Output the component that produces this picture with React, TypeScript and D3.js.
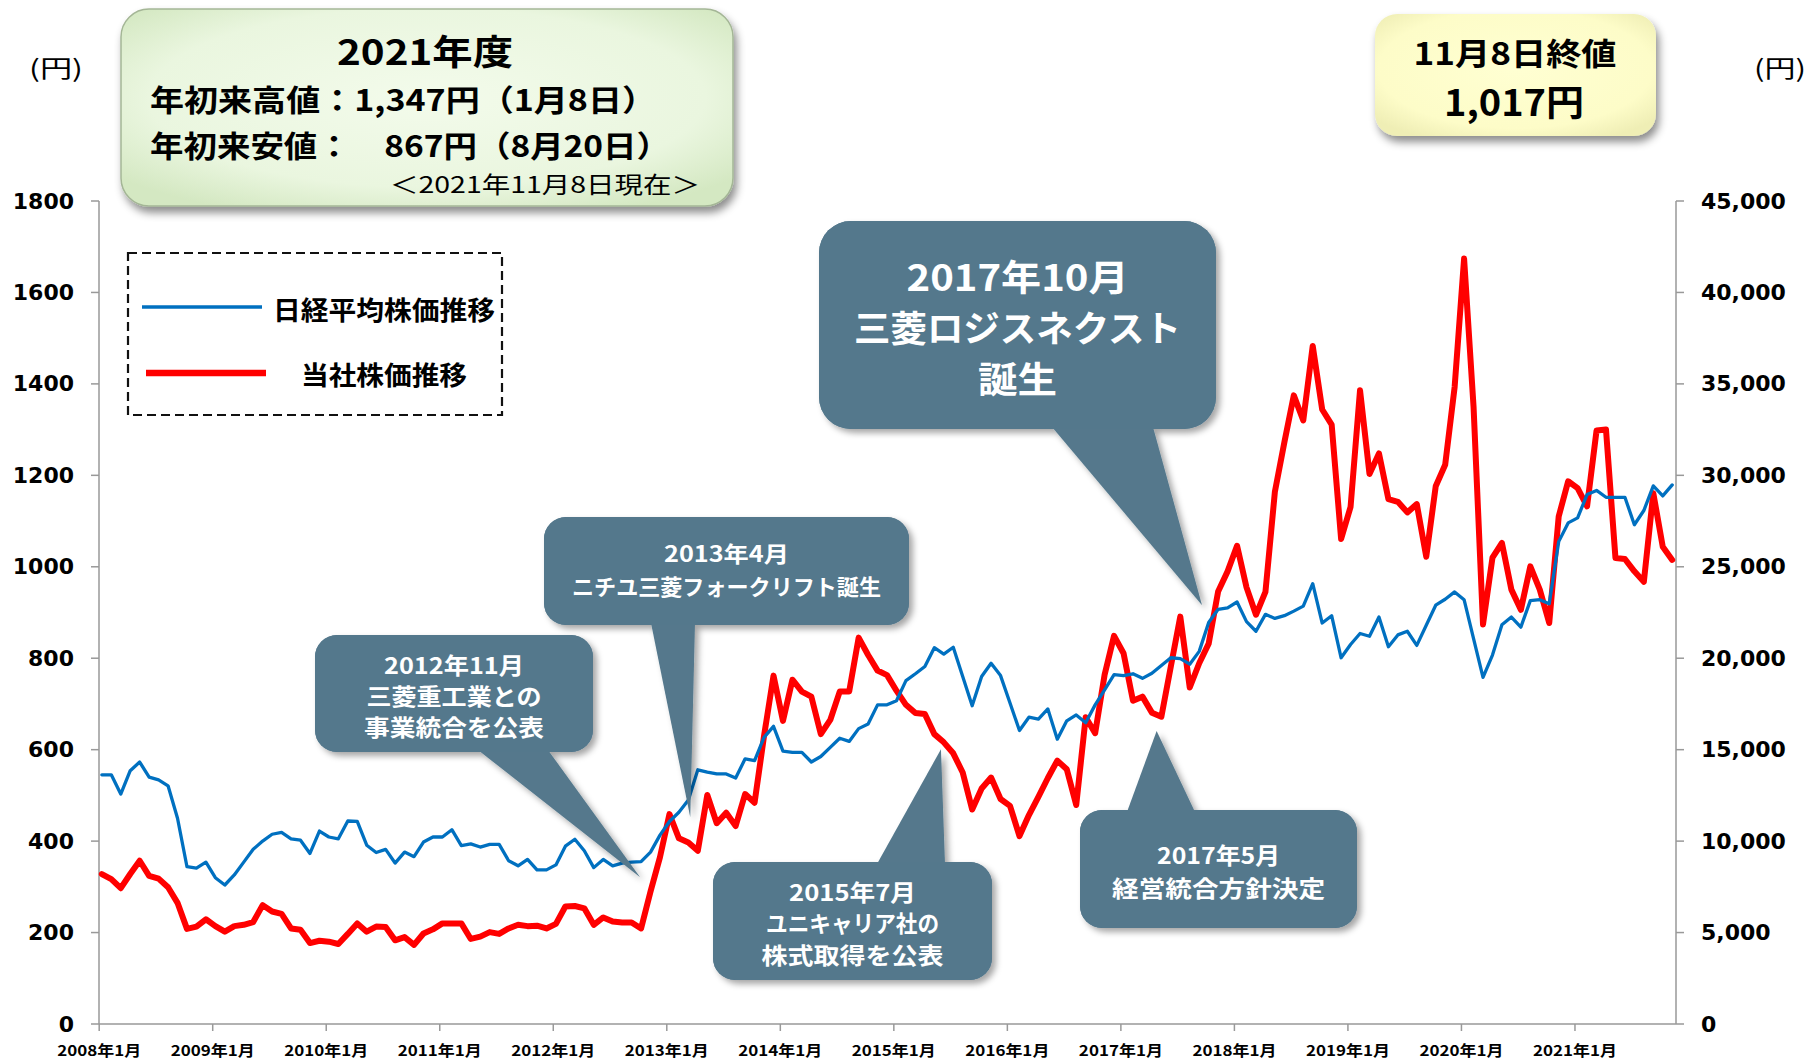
import React from 'react';
import * as d3 from 'd3';

// 当社株価 (円, left axis) monthly Jan 2008 – Nov 2021
const companyPrice = [
  328, 317, 297, 328, 357, 324, 318, 299, 265, 208, 213, 229,
  214, 202, 214, 217, 223, 260, 246, 241, 209, 206, 177, 182,
  180, 175, 197, 220, 202, 213, 212, 183, 190, 173, 198, 207,
  220, 220, 220, 186, 191, 201, 197, 209, 217, 214, 215, 209,
  219, 257, 258, 253, 217, 233, 224, 222, 222, 209, 290, 365,
  459, 406, 397, 379, 501, 439, 462, 433, 503, 484, 630, 762,
  663, 753, 727, 716, 634, 665, 727, 727, 845, 807, 773, 763,
  729, 698, 680, 678, 634, 616, 592, 550, 469, 515, 539, 492,
  477, 411, 457, 497, 538, 576, 557, 479, 671, 636, 764, 849,
  811, 707, 716, 681, 672, 782, 891, 736, 789, 832, 946, 990,
  1046, 955, 895, 945, 1164, 1272, 1375, 1320, 1483, 1344, 1311, 1061,
  1131, 1386, 1203, 1248, 1148, 1142, 1119, 1137, 1022, 1176, 1223, 1393,
  1674, 1350, 874, 1020, 1052, 950, 906, 1001, 950, 877, 1110, 1187,
  1172, 1132, 1298, 1300, 1019, 1017, 990, 967, 1161, 1044, 1015,
];

// 日経平均株価 (円, right axis)
const nikkeiAverage = [
  13625, 13625, 12575, 13850, 14325, 13500, 13350, 13025, 11250, 8600, 8525, 8850,
  8000, 7600, 8150, 8850, 9550, 10000, 10375, 10475, 10125, 10050, 9325, 10550,
  10225, 10125, 11100, 11075, 9775, 9375, 9550, 8800, 9400, 9150, 9950, 10225,
  10225, 10625, 9750, 9850, 9675, 9825, 9825, 8925, 8650, 9000, 8425, 8425,
  8700, 9725, 10100, 9475, 8550, 9000, 8650, 8800, 8850, 8875, 9400, 10325,
  11075, 11575, 12250, 13900, 13775, 13675, 13675, 13450, 14500, 14400, 15675, 16275,
  14925, 14850, 14850, 14325, 14625, 15125, 15625, 15450, 16150, 16400, 17450, 17450,
  17675, 18775, 19150, 19550, 20575, 20225, 20600, 19000, 17400, 19000, 19725, 19050,
  17550, 16050, 16775, 16675, 17225, 15575, 16575, 16900, 16475, 17450, 18275, 19100,
  19050, 19150, 18900, 19175, 19600, 20025, 19975, 19675, 20375, 21950, 22675, 22750,
  23075, 22000, 21475, 22400, 22175, 22325, 22575, 22850, 24075, 21925, 22325, 20025,
  20750, 21350, 21200, 22250, 20625, 21275, 21475, 20700, 21800, 22900, 23225, 23625,
  23200, 21075, 18950, 20175, 21825, 22250, 21700, 23150, 23200, 22975, 26375, 27400,
  27675, 28950, 29175, 28800, 28800, 28800, 27300, 28075, 29425, 28875, 29475,
];

const yearLabels = [
  '2008年1月', '2009年1月', '2010年1月', '2011年1月', '2012年1月', '2013年1月', '2014年1月',
  '2015年1月', '2016年1月', '2017年1月', '2018年1月', '2019年1月', '2020年1月', '2021年1月',
];
const leftTicks = [0, 200, 400, 600, 800, 1000, 1200, 1400, 1600, 1800];
const rightTicks = [0, 5000, 10000, 15000, 20000, 25000, 30000, 35000, 40000, 45000];

const JP = "'Noto Sans CJK JP', 'Noto Sans', sans-serif";
const NUM = "'DejaVu Sans', Verdana, sans-serif";
const CALLOUT = '#54788C';

type Line = { t: string; y: number; s: number; w: number };
type Callout = {
  box: [number, number, number, number];
  r: number;
  base: [number, number];
  side: 'top' | 'bottom';
  tip: [number, number]; // [month index, left-axis value]
  lines: Line[];
};

const callouts: Callout[] = [
  {
    box: [819, 221, 397, 208], r: 32, base: [1052, 1153], side: 'bottom', tip: [116.3, 916],
    lines: [
      { t: '2017年10月', y: 275, s: 36, w: 222 },
      { t: '三菱ロジスネクスト', y: 326, s: 36, w: 327 },
      { t: '誕生', y: 377, s: 36, w: 79 },
    ],
  },
  {
    box: [544, 517, 365, 108], r: 22, base: [651, 695], side: 'bottom', tip: [62.2, 452],
    lines: [
      { t: '2013年4月', y: 552, s: 22, w: 125 },
      { t: 'ニチユ三菱フォークリフト誕生', y: 585, s: 22, w: 309 },
    ],
  },
  {
    box: [315, 635, 278, 117], r: 22, base: [478, 548], side: 'bottom', tip: [56.9, 321],
    lines: [
      { t: '2012年11月', y: 664, s: 23, w: 140 },
      { t: '三菱重工業との', y: 695, s: 23, w: 175 },
      { t: '事業統合を公表', y: 726, s: 23, w: 180 },
    ],
  },
  {
    box: [713, 862, 279, 118], r: 22, base: [877, 945], side: 'top', tip: [88.7, 601],
    lines: [
      { t: '2015年7月', y: 891, s: 23, w: 127 },
      { t: 'ユニキャリア社の', y: 922, s: 23, w: 173 },
      { t: '株式取得を公表', y: 954, s: 23, w: 182 },
    ],
  },
  {
    box: [1080, 810, 277, 118], r: 22, base: [1127, 1195], side: 'top', tip: [111.5, 641],
    lines: [
      { t: '2017年5月', y: 854, s: 23, w: 123 },
      { t: '経営統合方針決定', y: 887, s: 23, w: 213 },
    ],
  },
];

export default function App() {
  const x = d3.scaleLinear().domain([-0.3, 166.4]).range([99, 1676]);
  const yL = d3.scaleLinear().domain([0, 1800]).range([1024, 201]);
  const yR = d3.scaleLinear().domain([0, 45000]).range([1024, 201]);

  const lineCompany = d3.line<number>().x((_, i) => x(i)).y((d) => yL(d));
  const lineNikkei = d3.line<number>().x((_, i) => x(i)).y((d) => yR(d));

  const x0 = x.range()[0];
  const x1 = x.range()[1];
  const yBottom = yL.range()[0];
  const yTop = yL.range()[1];

  return (
    <svg
      width={1808}
      height={1058}
      style={{ position: 'absolute', left: 0, top: 0, background: '#fff' }}
      fontFamily={JP}
    >
      <defs>
        <filter id="shCallout" x="-10%" y="-10%" width="130%" height="130%">
          <feDropShadow dx="4" dy="4" stdDeviation="3" floodColor="#000" floodOpacity="0.35" />
        </filter>
        <filter id="shBox" x="-10%" y="-10%" width="125%" height="140%">
          <feDropShadow dx="3" dy="6" stdDeviation="4" floodColor="#000" floodOpacity="0.45" />
        </filter>
        <radialGradient id="greenFill" cx="50%" cy="45%" r="65%">
          <stop offset="0%" stopColor="#f3fbeb" />
          <stop offset="70%" stopColor="#eaf6df" />
          <stop offset="100%" stopColor="#d4e8c2" />
        </radialGradient>
        <radialGradient id="yellowFill" cx="50%" cy="45%" r="65%">
          <stop offset="0%" stopColor="#ffffd2" />
          <stop offset="75%" stopColor="#fdfcc8" />
          <stop offset="100%" stopColor="#efeeb5" />
        </radialGradient>
      </defs>

      {/* axes */}
      <g stroke="#999" strokeWidth={1.5} fill="none">
        <line x1={x0} y1={yTop} x2={x0} y2={yBottom} />
        <line x1={x1} y1={yTop} x2={x1} y2={yBottom} />
        <line x1={x0} y1={yBottom} x2={x1} y2={yBottom} />
        {leftTicks.map((t) => (
          <line key={'lt' + t} x1={x0 - 8} x2={x0} y1={yL(t)} y2={yL(t)} />
        ))}
        {rightTicks.map((t) => (
          <line key={'rt' + t} x1={x1} x2={x1 + 8} y1={yR(t)} y2={yR(t)} />
        ))}
        {yearLabels.map((_, k) => (
          <line key={'xt' + k} x1={x(12 * k - 0.28)} x2={x(12 * k - 0.28)} y1={yBottom} y2={yBottom + 7} />
        ))}
      </g>
      <g fontFamily={NUM} fontWeight="bold" fontSize={22} fill="#000">
        {leftTicks.map((t) => (
          <text key={'ll' + t} x={74} y={yL(t)} textAnchor="end" dominantBaseline="central">
            {t}
          </text>
        ))}
        {rightTicks.map((t) => (
          <text key={'rl' + t} x={1701} y={yR(t)} textAnchor="start" dominantBaseline="central">
            {d3.format(',')(t)}
          </text>
        ))}
      </g>
      <g fontWeight="bold" fontSize={15} fill="#000">
        {yearLabels.map((lab, k) => (
          <text
            key={'xl' + k}
            x={x(12 * k - 0.28)}
            y={1049}
            textAnchor="middle"
            dominantBaseline="central"
            textLength={84}
            lengthAdjust="spacingAndGlyphs"
          >
            {lab}
          </text>
        ))}
      </g>
      <text x={56} y={66} fontSize={24} textAnchor="middle" dominantBaseline="central" textLength={54} lengthAdjust="spacingAndGlyphs">(円)</text>
      <text x={1780} y={66} fontSize={24} textAnchor="middle" dominantBaseline="central" textLength={52} lengthAdjust="spacingAndGlyphs">(円)</text>

      {/* series */}
      <path d={lineCompany(companyPrice) || ''} fill="none" stroke="#FF0000" strokeWidth={6} strokeLinejoin="round" strokeLinecap="round" />
      <path d={lineNikkei(nikkeiAverage) || ''} fill="none" stroke="#0070C0" strokeWidth={3.3} strokeLinejoin="round" strokeLinecap="round" />

      {/* callouts */}
      {callouts.map((c, ci) => {
        const [bx, by, bw, bh] = c.box;
        const edgeY = c.side === 'bottom' ? by + bh - 2 : by + 2;
        const tipX = x(c.tip[0]);
        const tipY = yL(c.tip[1]);
        const cx = bx + bw / 2;
        return (
          <g key={'co' + ci}>
            <g filter="url(#shCallout)" fill={CALLOUT}>
              <rect x={bx} y={by} width={bw} height={bh} rx={c.r} ry={c.r} />
              <polygon points={`${c.base[0]},${edgeY} ${c.base[1]},${edgeY} ${tipX},${tipY}`} />
            </g>
            <rect x={bx} y={by} width={bw} height={bh} rx={c.r} ry={c.r} fill={CALLOUT} />
            {c.lines.map((l, li) => (
              <text
                key={li}
                x={cx}
                y={l.y}
                fill="#fff"
                fontWeight="bold"
                fontSize={l.s}
                textAnchor="middle"
                dominantBaseline="central"
                textLength={l.w}
                lengthAdjust="spacingAndGlyphs"
              >
                {l.t}
              </text>
            ))}
          </g>
        );
      })}

      {/* legend */}
      <rect x={128} y={253} width={374} height={162} fill="none" stroke="#111" strokeWidth={2.2} strokeDasharray="9 5" />
      <line x1={142} x2={262} y1={307} y2={307} stroke="#0070C0" strokeWidth={3.5} />
      <text x={273} y={308} fontSize={26} fontWeight="bold" dominantBaseline="central" textLength={222} lengthAdjust="spacingAndGlyphs">日経平均株価推移</text>
      <line x1={146} x2={266} y1={373} y2={373} stroke="#FF0000" strokeWidth={6.5} />
      <text x={301} y={373} fontSize={26} fontWeight="bold" dominantBaseline="central" textLength={166} lengthAdjust="spacingAndGlyphs">当社株価推移</text>

      {/* 2021年度 box */}
      <rect x={121} y={9} width={612} height={197} rx={28} ry={28} fill="url(#greenFill)" stroke="#a4b696" strokeWidth={1.5} filter="url(#shBox)" />
      <text x={425} y={49} fontSize={35} fontWeight="bold" textAnchor="middle" dominantBaseline="central" textLength={176} lengthAdjust="spacingAndGlyphs">2021年度</text>
      <text x={150} y={98} fontSize={30} fontWeight="bold" dominantBaseline="central" textLength={506} lengthAdjust="spacingAndGlyphs">年初来高値：1,347円（1月8日）</text>
      <text x={150} y={144} fontSize={30} fontWeight="bold" dominantBaseline="central" textLength={520} lengthAdjust="spacingAndGlyphs">年初来安値：　867円（8月20日）</text>
      <text x={390} y={183} fontSize={23} dominantBaseline="central" textLength={310} lengthAdjust="spacingAndGlyphs">＜2021年11月8日現在＞</text>

      {/* 終値 box */}
      <rect x={1375} y={14} width={281} height={122} rx={22} ry={22} fill="url(#yellowFill)" filter="url(#shBox)" />
      <text x={1515} y={51} fontSize={31} fontWeight="bold" textAnchor="middle" dominantBaseline="central" textLength={203} lengthAdjust="spacingAndGlyphs">11月8日終値</text>
      <text x={1514} y={100} fontSize={36} fontWeight="bold" textAnchor="middle" dominantBaseline="central" textLength={140} lengthAdjust="spacingAndGlyphs">1,017円</text>
    </svg>
  );
}
